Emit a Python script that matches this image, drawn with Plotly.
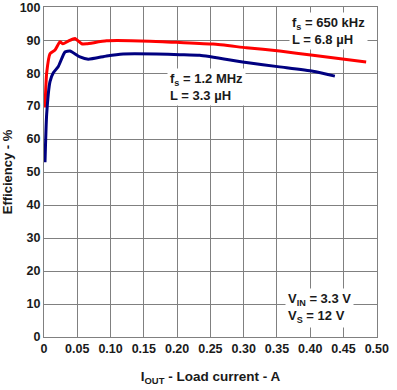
import plotly.graph_objects as go

# Red curve: fs = 650 kHz, L = 6.8 uH
red_x = [0.0015, 0.004, 0.009, 0.0165, 0.024, 0.0285, 0.0365, 0.0465, 0.0566, 0.064, 0.094,
         0.159, 0.204, 0.254, 0.304, 0.354, 0.404, 0.484]
red_y = [69.6, 80.0, 85.9, 87.0, 89.5, 88.9, 89.7, 90.5, 88.9, 88.9, 89.8,
         89.7, 89.3, 88.8, 87.7, 86.7, 85.4, 83.4]

# Blue curve: fs = 1.2 MHz, L = 3.3 uH
blue_x = [0.0015, 0.004, 0.009, 0.014, 0.0215, 0.0315, 0.039, 0.054, 0.0665, 0.094, 0.119,
          0.169, 0.204, 0.234, 0.304, 0.354, 0.404, 0.437]
blue_y = [53.0, 67.5, 77.4, 80.1, 82.0, 86.4, 86.7, 84.9, 84.2, 85.2, 85.8,
          85.8, 85.6, 85.4, 83.2, 81.9, 80.6, 79.1]

x_ticks = [0, 0.05, 0.10, 0.15, 0.20, 0.25, 0.30, 0.35, 0.40, 0.45, 0.50]
x_labels = ["0", "0.05", "0.10", "0.15", "0.20", "0.25", "0.30", "0.35", "0.40", "0.45", "0.50"]
y_ticks = [0, 10, 20, 30, 40, 50, 60, 70, 80, 90, 100]

FONT = "Liberation Sans, Arial, sans-serif"

fig = go.Figure()
fig.add_trace(go.Scatter(x=red_x, y=red_y, mode="lines", hoverinfo="skip",
                         line=dict(color="#ff0000", width=3, shape="spline", smoothing=0.5)))
fig.add_trace(go.Scatter(x=blue_x, y=blue_y, mode="lines", hoverinfo="skip",
                         line=dict(color="#000080", width=3, shape="spline", smoothing=0.5)))

ann_font = dict(family=FONT, size=13, color="#1a1a1a")
fig.add_annotation(x=0.368, y=98.5, xref="x", yref="y", xanchor="left", yanchor="top",
                   text="<b>f<sub>s</sub> = 650 kHz<br>L = 6.8 µH</b>", showarrow=False,
                   align="left", bgcolor="white", font=ann_font, borderpad=2)
fig.add_annotation(x=0.185, y=81.6, xref="x", yref="y", xanchor="left", yanchor="top",
                   text="<b>f<sub>s</sub> = 1.2 MHz<br>L = 3.3 µH</b>", showarrow=False,
                   align="left", bgcolor="white", font=ann_font, borderpad=2)
fig.add_annotation(x=0.362, y=14.8, xref="x", yref="y", xanchor="left", yanchor="top",
                   text="<b>V<sub>IN</sub> = 3.3 V<br>V<sub>S</sub> = 12 V</b>", showarrow=False,
                   align="left", bgcolor="white", font=ann_font, borderpad=2)

fig.update_layout(
    width=397, height=390,
    margin=dict(l=44, r=20, t=7, b=53),
    paper_bgcolor="white", plot_bgcolor="white",
    showlegend=False,
    font=dict(family=FONT, size=12, color="#1a1a1a"),
    xaxis=dict(range=[0, 0.5003], tickvals=x_ticks, ticktext=["<b>%s</b>" % t for t in x_labels],
               showgrid=True, gridcolor="#808080", gridwidth=1,
               showline=True, linecolor="#808080", linewidth=1, mirror=True,
               ticks="", zeroline=False, automargin=False, ticklabeloverflow="allow",
               title=dict(text="<b>I<sub>OUT</sub> - Load current - A</b>", font=dict(size=13.5), standoff=16),
               tickfont=dict(size=12.5)),
    yaxis=dict(range=[0, 100.05], tickvals=y_ticks, ticktext=["<b>%d</b>" % t for t in y_ticks],
               showgrid=True, gridcolor="#808080", gridwidth=1,
               showline=True, linecolor="#808080", linewidth=1, mirror=True,
               ticks="", zeroline=False, automargin=False, ticklabeloverflow="allow",
               title=dict(text="<b>Efficiency - %</b>", font=dict(size=13), standoff=4),
               tickfont=dict(size=12.5)),
)

fig.write_html("out.html", config={"displayModeBar": False, "staticPlot": True},
               post_script="document.body.style.margin='0';document.body.style.overflow='hidden';")
